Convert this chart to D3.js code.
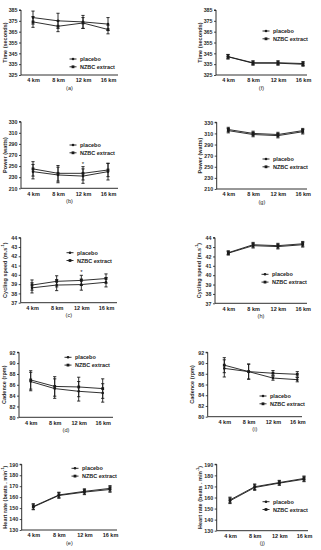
<!DOCTYPE html>
<html><head><meta charset="utf-8">
<script src="https://cdn.jsdelivr.net/npm/d3@7"></script>
<style>html,body{margin:0;padding:0;background:#fff;}svg{display:block;}</style>
</head><body><svg id="c" width="321" height="550"></svg>
<script>
const categories = ["4 km","8 km","12 km","16 km"];
const seriesNames = ["placebo","NZBC extract"];
const captions = ["(a)","(b)","(c)","(d)","(e)","(f)","(g)","(h)","(i)","(j)"];
const yLabels = ["Time (seconds)","Power (watts)","Cycling speed (m.s|-1|)","Cadence (rpm)","Heart rate (beats . min|-1|)"];
const timeTicks = [325,335,345,355,365,375,385];
const powerTicks = [210,230,250,270,290,310,330];
const speedTicks = [37,38,39,40,41,42,43,44];
const cadenceTicks = [80,82,84,86,88,90,92];
const hrTicks = [130,140,150,160,170,180,190];

// Left column (a)-(e)
const timeA_placebo = [378,375,374,372], timeA_placeboSD = [6,7,6,6];
const timeA_nzbc = [374,370,373,367], timeA_nzbcSD = [5,5,5,4];
const powerB_placebo = [240,234,232,240], powerB_placeboSD = [13,14,13,15];
const powerB_nzbc = [245,237,237,243], powerB_nzbcSD = [13,14,12,12];
const speedC_placebo = [38.6,38.9,38.95,39.2], speedC_placeboSD = [0.55,0.6,0.6,0.5];
const speedC_nzbc = [38.9,39.3,39.4,39.6], speedC_nzbcSD = [0.55,0.6,0.55,0.5];
const cadD_placebo = [86.6,85.3,84.8,84.5], cadD_placeboSD = [1.7,1.8,1.8,1.7];
const cadD_nzbc = [86.9,85.7,85.6,85.3], cadD_nzbcSD = [1.7,1.8,1.8,1.8];
const hrE_placebo = [151,161.5,164.6,167], hrE_placeboSD = [2.5,2.5,2.3,2.5];
const hrE_nzbc = [151.5,162,165.3,168], hrE_nzbcSD = [2.5,2.5,2.3,2.5];
// Right column (f)-(j)
const timeF_placebo = [342,336.3,336.3,335.6], timeF_placeboSD = [2,1.8,1.8,1.8];
const timeF_nzbc = [341.8,335.9,335.9,334.9], timeF_nzbcSD = [2,1.8,1.8,1.8];
const powerG_placebo = [315,308,306,313], powerG_placeboSD = [4,4,4,4];
const powerG_nzbc = [317,310,308,315], powerG_nzbcSD = [4,4,4,4];
const speedH_placebo = [42.35,43.15,43.05,43.25], speedH_placeboSD = [0.2,0.25,0.25,0.25];
const speedH_nzbc = [42.4,43.25,43.15,43.35], speedH_nzbcSD = [0.2,0.25,0.25,0.25];
const cadI_placebo = [89.0,88.4,87.2,86.9], cadI_placeboSD = [1.6,1.4,0.4,0.4];
const cadI_nzbc = [89.6,88.4,88.1,87.9], cadI_nzbcSD = [1.4,1.4,0.5,0.5];
const hrJ_placebo = [157,169,173,176.5], hrJ_placeboSD = [2.5,2.5,2,2.2];
const hrJ_nzbc = [157.8,169.7,173.5,177.2], hrJ_nzbcSD = [2.5,2.5,2,2.2];

const panelData = [
  {p:timeA_placebo,ps:timeA_placeboSD,n:timeA_nzbc,ns:timeA_nzbcSD,ticks:timeTicks,lab:0,star:null},
  {p:powerB_placebo,ps:powerB_placeboSD,n:powerB_nzbc,ns:powerB_nzbcSD,ticks:powerTicks,lab:1,star:"12 km"},
  {p:speedC_placebo,ps:speedC_placeboSD,n:speedC_nzbc,ns:speedC_nzbcSD,ticks:speedTicks,lab:2,star:"12 km"},
  {p:cadD_placebo,ps:cadD_placeboSD,n:cadD_nzbc,ns:cadD_nzbcSD,ticks:cadenceTicks,lab:3,star:null},
  {p:hrE_placebo,ps:hrE_placeboSD,n:hrE_nzbc,ns:hrE_nzbcSD,ticks:hrTicks,lab:4,star:null},
  {p:timeF_placebo,ps:timeF_placeboSD,n:timeF_nzbc,ns:timeF_nzbcSD,ticks:timeTicks,lab:0,star:null},
  {p:powerG_placebo,ps:powerG_placeboSD,n:powerG_nzbc,ns:powerG_nzbcSD,ticks:powerTicks,lab:1,star:null},
  {p:speedH_placebo,ps:speedH_placeboSD,n:speedH_nzbc,ns:speedH_nzbcSD,ticks:speedTicks,lab:2,star:null},
  {p:cadI_placebo,ps:cadI_placeboSD,n:cadI_nzbc,ns:cadI_nzbcSD,ticks:cadenceTicks,lab:3,star:null},
  {p:hrJ_placebo,ps:hrJ_placeboSD,n:hrJ_nzbc,ns:hrJ_nzbcSD,ticks:hrTicks,lab:4,star:null}
];

const layout = [
  {ax:21,ae:118,yt:10,yb:75,c0:33,c1:108,lx:73,ly:59,yl:5},
  {ax:21,ae:118,yt:121.7,yb:188.3,c0:33,c1:108,lx:73,ly:145,yl:5},
  {ax:20.7,ae:117,yt:237.7,yb:302.7,c0:32,c1:106,lx:70,ly:252.7,yl:5},
  {ax:19,ae:113,yt:352.3,yb:417.3,c0:30.7,c1:102.7,lx:68,ly:357.3,yl:4},
  {ax:21.7,ae:117,yt:464.3,yb:530,c0:33.3,c1:110,lx:75,ly:468.3,yl:5},
  {ax:216,ae:307,yt:10,yb:75,c0:228,c1:303,lx:266,ly:31,yl:200},
  {ax:216.7,ae:307,yt:122.3,yb:189,c0:228.3,c1:302.7,lx:266,ly:159,yl:200},
  {ax:215,ae:307,yt:237.7,yb:303.3,c0:228.3,c1:302.7,lx:265,ly:274.3,yl:199},
  {ax:207.7,ae:302,yt:352.3,yb:416.7,c0:224.3,c1:297.3,lx:263,ly:396,yl:192},
  {ax:216.7,ae:308,yt:464.3,yb:530.7,c0:230,c1:304,lx:266,ly:501.7,yl:200}
];

const svg = d3.select("#c");
const FONT = "'Liberation Sans', Arial, sans-serif";
const ink = "#1a1a1a";

panelData.forEach((d,i)=>{
  const L = layout[i];
  const g = svg.append("g");
  const x = d3.scalePoint().domain(categories).range([L.c0,L.c1]);
  const y = d3.scaleLinear().domain([d.ticks[0], d.ticks[d.ticks.length-1]]).range([L.yb,L.yt]);
  const ya = g.append("g").attr("transform",`translate(${L.ax},0)`)
    .call(d3.axisLeft(y).tickValues(d.ticks).tickSize(2).tickPadding(1.5).tickFormat(d3.format("d")));
  ya.select(".domain").attr("stroke",ink).attr("stroke-width",0.9).attr("d",`M-2,${L.yt}H0V${L.yb}`);
  ya.selectAll(".tick line").attr("stroke",ink).attr("stroke-width",0.8);
  ya.selectAll(".tick text").attr("font-family",FONT).attr("font-size",5.3).attr("font-weight","bold").attr("fill","#2a2a2a");
  const xa = g.append("g").attr("transform",`translate(0,${L.yb})`)
    .call(d3.axisBottom(x).tickSize(0).tickPadding(3.5));
  xa.select(".domain").attr("stroke",ink).attr("stroke-width",0.9).attr("d",`M${L.ax},0H${L.ae}`);
  xa.selectAll(".tick text").attr("font-family",FONT).attr("font-size",5.5).attr("font-weight","bold").attr("fill",ink);
  g.append("text").attr("x",(L.ax+L.ae)/2).attr("y",L.yb+14.5).attr("text-anchor","middle")
    .attr("font-family",FONT).attr("font-size",5.6).attr("fill",ink).text(captions[i]);
  const yt = g.append("text").attr("transform",`translate(${L.yl},${(L.yt+L.yb)/2}) rotate(-90)`)
    .attr("text-anchor","middle").attr("dominant-baseline","central")
    .attr("font-family",FONT).attr("font-size",5.5).attr("font-weight","bold").attr("fill","#2a2a2a");
  yLabels[d.lab].split("|").forEach((part,k)=>{
    const ts = yt.append("tspan").text(part);
    if(k===1) ts.attr("font-size",3.8).attr("dy",-1.8);
    if(k===2) ts.attr("dy",1.8);
  });
  const series = [{v:d.p,s:d.ps,shape:"circle"},{v:d.n,s:d.ns,shape:"square"}];
  series.forEach(S=>{
    const pts = categories.map((c,k)=>({c,v:S.v[k],s:S.s[k]}));
    pts.forEach(p=>{
      const cx = x(p.c);
      g.append("line").attr("x1",cx).attr("x2",cx).attr("y1",y(p.v+p.s)).attr("y2",y(p.v-p.s)).attr("stroke",ink).attr("stroke-width",0.9);
      [p.v+p.s,p.v-p.s].forEach(e=>g.append("line").attr("x1",cx-1.6).attr("x2",cx+1.6).attr("y1",y(e)).attr("y2",y(e)).attr("stroke",ink).attr("stroke-width",0.9));
    });
    g.append("path").datum(pts).attr("fill","none").attr("stroke",ink).attr("stroke-width",0.9)
      .attr("d",d3.line().x(p=>x(p.c)).y(p=>y(p.v)));
    pts.forEach(p=>{
      if(S.shape==="circle") g.append("circle").attr("cx",x(p.c)).attr("cy",y(p.v)).attr("r",1.3).attr("fill",ink);
      else g.append("rect").attr("x",x(p.c)-1.4).attr("y",y(p.v)-1.4).attr("width",2.8).attr("height",2.8).attr("fill",ink);
    });
  });
  if(d.star){
    const k = categories.indexOf(d.star);
    const top = Math.max(d.p[k]+d.ps[k], d.n[k]+d.ns[k]);
    g.append("text").attr("x",x(d.star)).attr("y",y(top)-1).attr("text-anchor","middle")
      .attr("font-family",FONT).attr("font-size",6).attr("fill",ink).text("*");
  }
  seriesNames.forEach((nm,k)=>{
    const ly = L.ly + k*7.8;
    g.append("line").attr("x1",L.lx-3.5).attr("x2",L.lx+3.5).attr("y1",ly).attr("y2",ly).attr("stroke",ink).attr("stroke-width",0.9);
    if(k===0) g.append("circle").attr("cx",L.lx).attr("cy",ly).attr("r",1.3).attr("fill",ink);
    else g.append("rect").attr("x",L.lx-1.4).attr("y",ly-1.4).attr("width",2.8).attr("height",2.8).attr("fill",ink);
    g.append("text").attr("x",L.lx+7).attr("y",ly).attr("dominant-baseline","central")
      .attr("font-family",FONT).attr("font-size",5.5).attr("font-weight","bold").attr("fill",ink).text(nm);
  });
});
</script></body></html>
